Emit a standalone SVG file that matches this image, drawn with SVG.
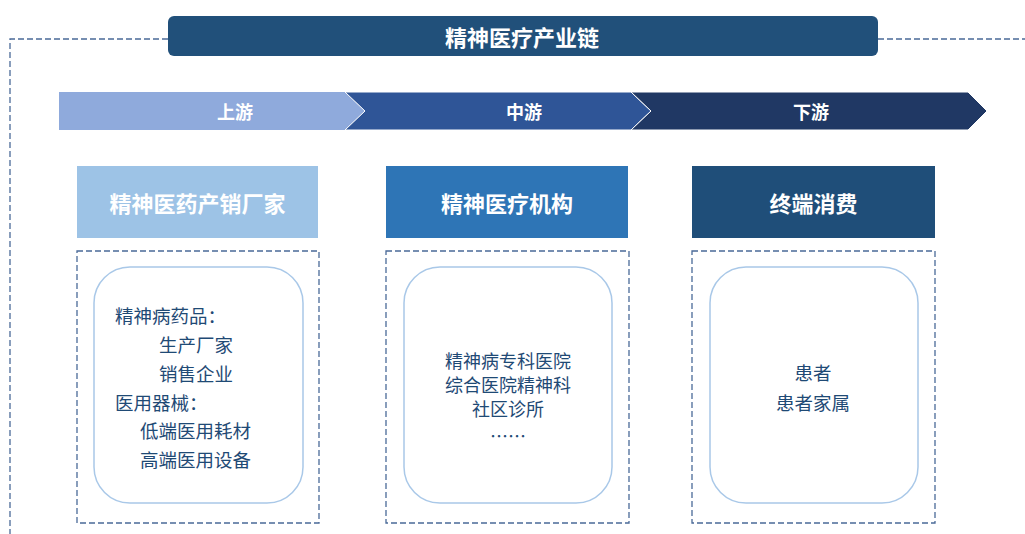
<svg xmlns="http://www.w3.org/2000/svg" width="1025" height="534" viewBox="0 0 1025 534">
<style>
text{font-family:"Noto Sans CJK SC","Noto Sans",sans-serif;dominant-baseline:central}
.w{fill:#fff;font-weight:bold}
.t{fill:#1F4A75;font-size:18.5px}
.m{font-size:18px}
.dash{fill:none;stroke:#4A6A98;stroke-width:1.3;stroke-dasharray:6 3}
.inner{fill:#fff;stroke:#A9C8E8;stroke-width:1.5}
</style>
<rect width="1025" height="534" fill="#fff"/>
<g id="frame">
<path class="dash" d="M168,39 H10 V534"/>
<path class="dash" d="M878,39 H1025"/>
</g>
<g id="title">
<rect x="168" y="16" width="710" height="40" rx="6" fill="#21507A"/>
<text class="w" x="522" y="36" text-anchor="middle" font-size="22">精神医疗产业链</text>
</g>
<g id="stages">
<g id="up">
<polygon points="59,92 345,92 365,111 345,130 59,130" fill="#8FAADC"/>
<text class="w" x="235" y="111" text-anchor="middle" font-size="18">上游</text>
</g>
<g id="mid">
<polygon points="345,92 631,92 651,111 631,130 345,130 365,111" fill="#2F5597" stroke="#fff" stroke-width="1"/>
<text class="w" x="524" y="111" text-anchor="middle" font-size="18">中游</text>
</g>
<g id="down">
<polygon points="631,92 968,92 987,111 968,130 631,130 651,111" fill="#203864" stroke="#fff" stroke-width="1"/>
<text class="w" x="811" y="111" text-anchor="middle" font-size="18">下游</text>
</g>
</g>
<g id="col1">
<rect x="77" y="166" width="241" height="72" fill="#9DC3E6"/>
<text class="w" x="197.5" y="202" text-anchor="middle" font-size="22">精神医药产销厂家</text>
<rect class="dash" x="77" y="251" width="242" height="272"/>
<rect class="inner" x="94" y="267" width="209" height="236" rx="36"/>
<text class="t" x="115" y="315">精神病药品：</text>
<text class="t" x="159" y="344">生产厂家</text>
<text class="t" x="159" y="373">销售企业</text>
<text class="t" x="115" y="402">医用器械：</text>
<text class="t" x="140" y="430">低端医用耗材</text>
<text class="t" x="140" y="459">高端医用设备</text>
</g>
<g id="col2">
<rect x="386" y="166" width="242" height="72" fill="#2E75B6"/>
<text class="w" x="507" y="202" text-anchor="middle" font-size="22">精神医疗机构</text>
<rect class="dash" x="386" y="251" width="243" height="272"/>
<rect class="inner" x="404" y="267" width="208" height="236" rx="36"/>
<text class="t m" x="508" y="360" text-anchor="middle">精神病专科医院</text>
<text class="t m" x="508" y="384" text-anchor="middle">综合医院精神科</text>
<text class="t m" x="508" y="408" text-anchor="middle">社区诊所</text>
<text class="t m" x="508" y="435" text-anchor="middle">……</text>
</g>
<g id="col3">
<rect x="692" y="166" width="243" height="72" fill="#1F4E79"/>
<text class="w" x="813.5" y="202" text-anchor="middle" font-size="22">终端消费</text>
<rect class="dash" x="692" y="251" width="243" height="272"/>
<rect class="inner" x="710" y="267" width="208" height="236" rx="36"/>
<text class="t" x="813" y="372" text-anchor="middle">患者</text>
<text class="t" x="813" y="402" text-anchor="middle">患者家属</text>
</g>
</svg>
